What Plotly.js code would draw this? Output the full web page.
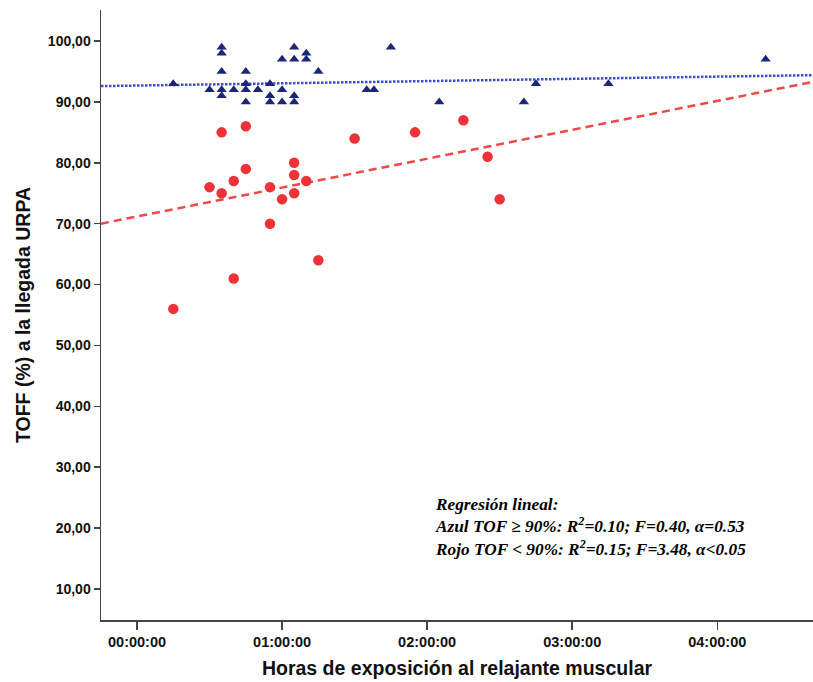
<!DOCTYPE html>
<html>
<head>
<meta charset="utf-8">
<script src="https://cdn.plot.ly/plotly-3.0.1.min.js"></script>
<style>html,body{margin:0;padding:0;background:#fff}#chart{width:813px;height:682px}</style>
</head>
<body>
<div id="chart"></div>
<script>
// Blue: TOF >= 90%
const blueTimes = ['00:15:00','00:35:00','00:35:00','00:35:00','00:30:00','00:35:00','00:35:00','00:40:00','00:45:00','00:45:00','00:45:00','00:45:00','00:50:00','00:55:00','00:55:00','00:55:00','01:00:00','01:00:00','01:00:00','01:05:00','01:05:00','01:05:00','01:05:00','01:10:00','01:10:00','01:15:00','01:35:00','01:38:00','01:45:00','02:05:00','02:40:00','02:45:00','03:15:00','04:20:00'];
const blueTOF = [93,99,98,95,92,92,91,92,95,93,92,90,92,93,91,90,92,90,97,99,97,91,90,98,97,95,92,92,99,90,90,93,93,97];
// Red: TOF < 90%
const redTimes = ['00:35:00','00:45:00','01:30:00','01:55:00','02:15:00','01:05:00','00:45:00','01:05:00','00:40:00','01:10:00','00:30:00','00:55:00','00:35:00','01:05:00','01:00:00','00:55:00','01:15:00','00:40:00','00:15:00','02:25:00','02:30:00'];
const redTOF = [85,86,84,85,87,80,79,78,77,77,76,76,75,75,74,70,64,61,56,81,74];
// Fit lines (values at the axis range ends)
const fitX = ['1969-12-31 23:45:06','1970-01-01 04:39:36'];
const blueFit = [92.6, 94.4];
const redFit = [70.0, 93.3];
const xTickVals = ['00:00:00','01:00:00','02:00:00','03:00:00','04:00:00'];
const yTickVals = [10,20,30,40,50,60,70,80,90,100];

const d = t => '1970-01-01 ' + t;

const traces = [
  {x: fitX, y: redFit, mode: 'lines', line: {color: '#f04848', width: 2.5, dash: '8px,5px'}, hoverinfo: 'skip'},
  {x: fitX, y: blueFit, mode: 'lines', line: {color: '#3a4cc2', width: 2.5, dash: '2.5px,1.5px'}, hoverinfo: 'skip'},
  {x: redTimes.map(d), y: redTOF, mode: 'markers', marker: {symbol: 'circle', size: 10.5, color: '#ee3238'}},
  {x: blueTimes.map(d), y: blueTOF, mode: 'markers', marker: {symbol: 'triangle-up', size: 9, color: '#1c2676'}}
];

const titleFont = {family: 'Liberation Sans, Arial, sans-serif', size: 19.5, color: '#111', weight: 'bold'};
const layout = {
  width: 813, height: 682,
  margin: {l: 101, r: 0, t: 10, b: 62},
  paper_bgcolor: '#fff', plot_bgcolor: '#fff',
  showlegend: false,
  separators: ',.',
  xaxis: {
    type: 'date',
    range: fitX,
    tickvals: xTickVals.map(d),
    tickformat: '%H:%M:%S',
    showgrid: false, zeroline: false,
    showline: true, linecolor: '#444', linewidth: 1.5,
    ticks: 'outside', ticklen: 8, tickwidth: 1.5, tickcolor: '#444',
    tickfont: {family: 'Liberation Sans, Arial, sans-serif', size: 14.5, color: '#111', weight: 'bold'},
    title: {text: 'Horas de exposición al relajante muscular', font: titleFont, standoff: 12}
  },
  yaxis: {
    range: [4.9, 105.1],
    tickvals: yTickVals,
    tickformat: '.2f',
    showgrid: false, zeroline: false,
    showline: true, linecolor: '#444', linewidth: 1.5,
    ticks: 'outside', ticklen: 6, tickwidth: 1.5, tickcolor: '#444',
    tickfont: {family: 'Liberation Sans, Arial, sans-serif', size: 14, color: '#111', weight: 'bold'},
    title: {text: 'TOFF (%) a la llegada URPA', font: titleFont, standoff: 12}
  },
  annotations: [{
    xref: 'paper', yref: 'paper', x: 0.4665, y: 0.208, xanchor: 'left', yanchor: 'top',
    align: 'left', showarrow: false,
    font: {family: 'Liberation Serif, Times New Roman, serif', size: 17.3, color: '#000', weight: 'bold', style: 'italic'},
    text: 'Regresión lineal:<br>Azul TOF ≥ 90%: R<sup>2</sup>=0.10; F=0.40, α=0.53<br>Rojo TOF &lt; 90%: R<sup>2</sup>=0.15; F=3.48, α&lt;0.05'
  }]
};

Plotly.newPlot('chart', traces, layout, {displayModeBar: false, staticPlot: true});
</script>
</body>
</html>
